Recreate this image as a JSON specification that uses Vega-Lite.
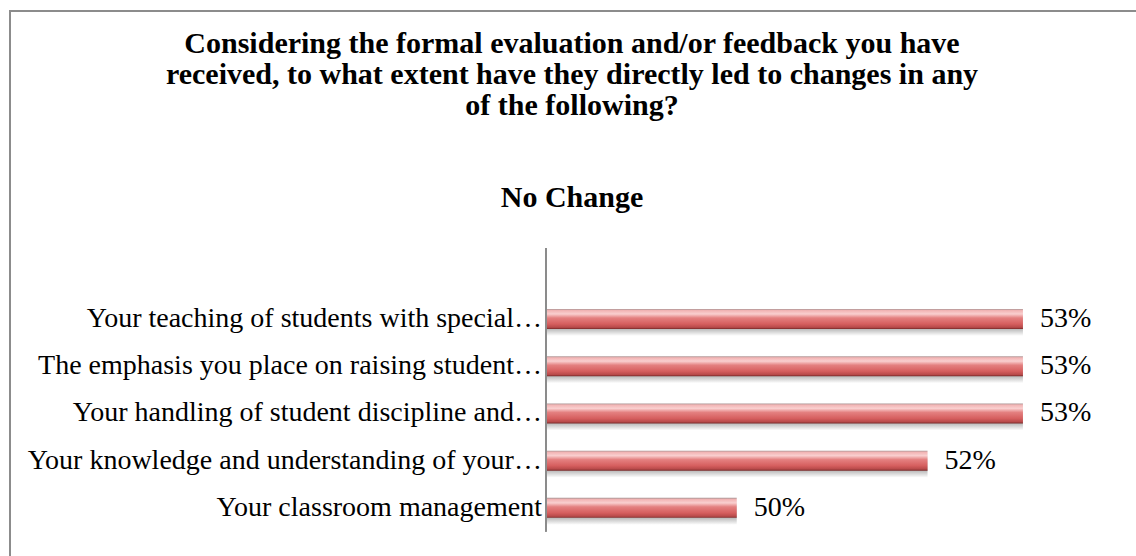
{
  "$schema": "https://vega.github.io/schema/vega-lite/v6.json",
  "width": 1136,
  "height": 556,
  "autosize": {"type": "none"},
  "padding": {"left": 10, "top": 11, "right": 0, "bottom": 0},
  "background": "white",
  "config": {"view": {"stroke": "#8c8c8c", "strokeWidth": 2}},
  "title": {
    "text": ["Considering the formal evaluation and/or feedback you have", "received, to what extent have they directly led to changes in any", "of the following?"],
    "subtitle": "No Change",
    "font": "Liberation Serif",
    "fontSize": 30,
    "fontWeight": "bold",
    "color": "black",
    "lineHeight": 31,
    "subtitleFont": "Liberation Serif",
    "subtitleFontSize": 30,
    "subtitleFontWeight": "bold",
    "subtitleColor": "black",
    "subtitlePadding": 62,
    "anchor": "middle",
    "frame": "group",
    "offset": -202,
    "dx": -6
  },
  "data": {
    "values": [
      {"item": "Your teaching of students with special…", "rank": 1, "pct": 0.53},
      {"item": "The emphasis you place on raising student…", "rank": 2, "pct": 0.53},
      {"item": "Your handling of student discipline and…", "rank": 3, "pct": 0.53},
      {"item": "Your knowledge and understanding of your…", "rank": 4, "pct": 0.52},
      {"item": "Your classroom management", "rank": 5, "pct": 0.50}
    ]
  },
  "encoding": {
    "y": {"field": "rank", "type": "quantitative", "axis": null, "scale": {"domain": [-5.414, 6.146], "reverse": true, "nice": false, "zero": false}}
  },
  "layer": [
    {
      "mark": {"type": "bar", "orient": "horizontal", "size": 34, "color": {"gradient": "linear", "x1": 0, "y1": 0, "x2": 0, "y2": 1, "stops": [
        {"offset": 0, "color": "rgba(0,0,0,0)"},
        {"offset": 0.2, "color": "rgba(0,0,0,0)"},
        {"offset": 0.79, "color": "rgba(0,0,0,0.28)"},
        {"offset": 1, "color": "rgba(0,0,0,0)"}
      ]}},
      "encoding": {
        "x": {"field": "pct", "type": "quantitative", "axis": null, "scale": {"domain": [0.42382, 0.5429], "nice": false, "zero": false}},
        "x2": {"datum": 0.48}
      }
    },
    {
      "mark": {"type": "bar", "orient": "horizontal", "size": 20, "color": {"gradient": "linear", "x1": 0, "y1": 0, "x2": 0, "y2": 1, "stops": [
        {"offset": 0, "color": "#a89494"},
        {"offset": 0.08, "color": "#f2b4b4"},
        {"offset": 0.25, "color": "#f9cfcf"},
        {"offset": 0.45, "color": "#e48080"},
        {"offset": 0.75, "color": "#d65f5f"},
        {"offset": 0.92, "color": "#b84a4a"},
        {"offset": 1, "color": "#7a2a2a"}
      ]}},
      "encoding": {
        "x": {"field": "pct", "type": "quantitative", "axis": null},
        "x2": {"datum": 0.48}
      }
    },
    {
      "mark": {"type": "rule", "color": "#8c8c8c", "strokeWidth": 1.5},
      "encoding": {
        "x": {"datum": 0.48, "type": "quantitative", "axis": null},
        "y": {"datum": -0.5, "type": "quantitative", "axis": null},
        "y2": {"datum": 5.5}
      }
    },
    {
      "mark": {"type": "text", "align": "right", "baseline": "middle", "dx": -4, "font": "Liberation Serif", "fontSize": 28, "color": "black"},
      "encoding": {
        "x": {"datum": 0.48, "type": "quantitative", "axis": null},
        "text": {"field": "item"}
      }
    },
    {
      "mark": {"type": "text", "align": "left", "baseline": "middle", "dx": 17, "font": "Liberation Serif", "fontSize": 28, "color": "black"},
      "encoding": {
        "x": {"field": "pct", "type": "quantitative", "axis": null},
        "text": {"field": "pct", "format": ".0%"}
      }
    }
  ]
}
